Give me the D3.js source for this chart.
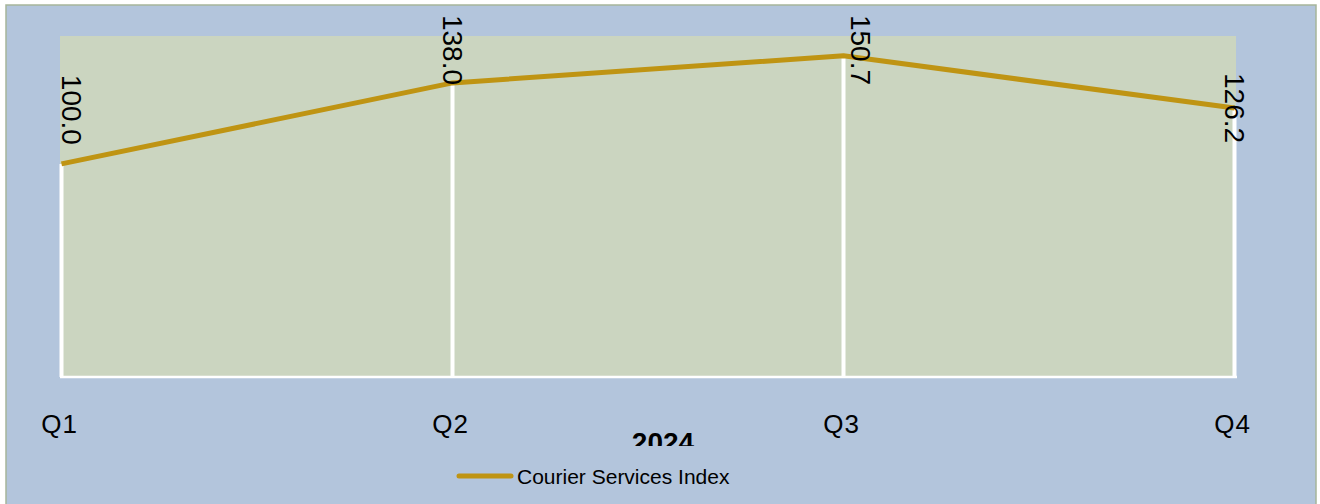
<!DOCTYPE html>
<html>
<head>
<meta charset="utf-8">
<script src="https://cdn.jsdelivr.net/npm/d3@7/dist/d3.min.js"></script>
<style>
  html, body { margin: 0; padding: 0; background: #fff; }
  svg { display: block; font-family: "Liberation Sans", Arial, sans-serif; }
</style>
</head>
<body>
<svg id="chart" width="1320" height="504"></svg>
<script>
// data
const quarters = ['Q1', 'Q2', 'Q3', 'Q4'];
const courierIndex = [100.0, 138.0, 150.7, 126.2];
const seriesName = 'Courier Services Index';
const axisTitle = '2024';
const yDomain = [0, 160];

const width = 1320;
const height = 504;
const plot = { left: 60, right: 1236, top: 36, bottom: 377 };

const colors = {
  frame: '#b3c5dc',
  frameStroke: '#a6b59b',
  plot: '#cbd5c0',
  grid: '#ffffff',
  line: '#bf9413',
  text: '#000000'
};

const svg = d3.select('#chart');

// chart frame
svg.append('rect')
  .attr('x', 6)
  .attr('y', 5)
  .attr('width', 1310)
  .attr('height', 520)
  .attr('fill', colors.frame)
  .attr('stroke', colors.frameStroke)
  .attr('stroke-width', 1.5);

const x = d3.scalePoint()
  .domain(quarters)
  .range([plot.left + 1.5, plot.right - 1.5]);

const y = d3.scaleLinear()
  .domain(yDomain)
  .range([plot.bottom, plot.top]);

// plot area
svg.append('rect')
  .attr('x', plot.left)
  .attr('y', plot.top)
  .attr('width', plot.right - plot.left)
  .attr('height', plot.bottom - plot.top)
  .attr('fill', colors.plot);

const points = quarters.map(function (q, i) {
  return { q: q, v: courierIndex[i], i: i };
});

// drop lines
svg.append('g')
  .selectAll('line')
  .data(points)
  .join('line')
  .attr('x1', d => x(d.q))
  .attr('x2', d => x(d.q))
  .attr('y1', d => y(d.v))
  .attr('y2', plot.bottom)
  .attr('stroke', colors.grid)
  .attr('stroke-width', 4);

// category axis line
svg.append('line')
  .attr('x1', plot.left)
  .attr('x2', plot.right + 1)
  .attr('y1', plot.bottom)
  .attr('y2', plot.bottom)
  .attr('stroke', colors.grid)
  .attr('stroke-width', 2.5);

// category labels
const xAxis = svg.append('g')
  .attr('transform', `translate(0,${plot.bottom})`)
  .call(d3.axisBottom(x).tickSize(0).tickPadding(0));
xAxis.select('.domain').remove();
xAxis.selectAll('.tick')
  .attr('transform', d => `translate(${x(d) - 2},0)`);
xAxis.selectAll('text')
  .attr('y', 56)
  .attr('dy', null)
  .attr('font-size', 26)
  .attr('letter-spacing', 1)
  .attr('font-family', '"Liberation Sans", Arial, sans-serif')
  .attr('fill', colors.text);

// series line
const line = d3.line()
  .x(d => x(d.q))
  .y(d => y(d.v));

svg.append('path')
  .datum(points)
  .attr('d', line)
  .attr('fill', 'none')
  .attr('stroke', colors.line)
  .attr('stroke-width', 5)
  .attr('stroke-linejoin', 'round');

// data labels, rotated; the peak label is pushed off the line to the right
const last = points.length - 1;
const peak = d3.maxIndex(courierIndex);
svg.append('g')
  .selectAll('text')
  .data(points)
  .join('text')
  .attr('transform', function (d) {
    const px = x(d.q) + (d.i === peak ? 17 : 0);
    const bx = Math.max(px - 10, plot.left + 2);
    const cy = d.i === last ? y(d.v) : Math.max(y(d.v) - 54, 50);
    return `translate(${bx},${cy}) rotate(90)`;
  })
  .attr('text-anchor', 'middle')
  .attr('font-size', 28)
  .attr('fill', colors.text)
  .text(d => d.v.toFixed(1));

// axis title, clipped by the legend area
svg.append('clipPath')
  .attr('id', 'title-clip')
  .append('rect')
  .attr('x', 0)
  .attr('y', 0)
  .attr('width', width)
  .attr('height', 446);

svg.append('text')
  .attr('clip-path', 'url(#title-clip)')
  .attr('x', 663)
  .attr('y', 452)
  .attr('text-anchor', 'middle')
  .attr('font-size', 28)
  .attr('font-weight', 'bold')
  .attr('fill', colors.text)
  .text(axisTitle);

// legend
const legend = svg.append('g')
  .attr('transform', 'translate(457,476)');
legend.append('line')
  .attr('x1', 2)
  .attr('x2', 54)
  .attr('y1', 0)
  .attr('y2', 0)
  .attr('stroke', colors.line)
  .attr('stroke-width', 5)
  .attr('stroke-linecap', 'round');
legend.append('text')
  .attr('x', 60)
  .attr('y', 7.5)
  .attr('font-size', 21)
  .attr('fill', colors.text)
  .text(seriesName);
</script>
</body>
</html>
